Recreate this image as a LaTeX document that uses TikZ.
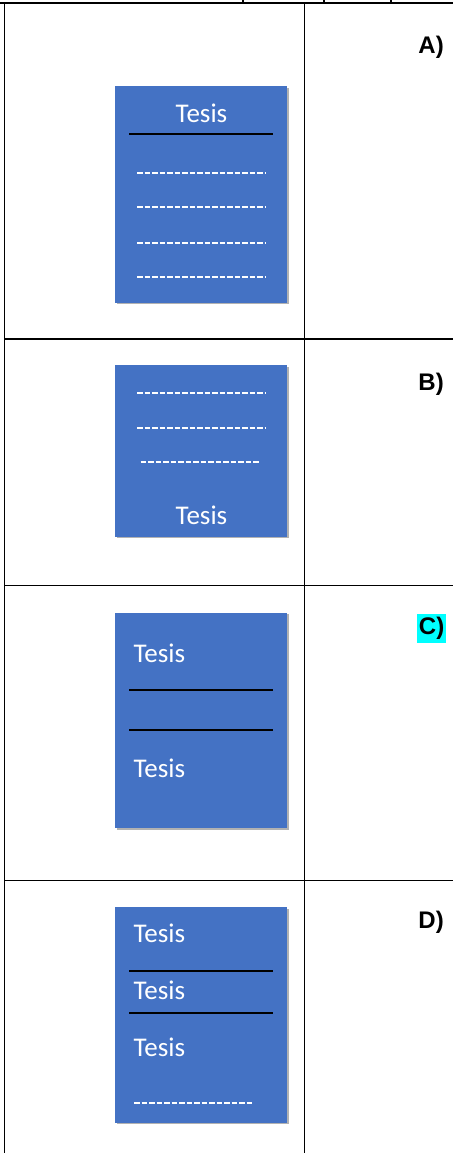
\documentclass[tikz,border=0pt]{standalone}
\usepackage{fontspec}
\setmainfont{Liberation Sans}
\newfontfamily\calib{Carlito}
\definecolor{officeblue}{HTML}{4472C4}
\definecolor{hlcyan}{RGB}{0,255,255}
\tikzset{
  grid/.style={line width=1.7pt, black},
  card/.style={fill=officeblue, draw=none},
  cardshadow/.style={fill=black!30, draw=none},
  rule/.style={line width=2pt, black},
  dots/.style={line width=1.8pt, white, dash pattern=on 5.5pt off 2pt},
  tesis/.style={text=white, inner sep=0pt, font=\calib\fontsize{27}{30}\selectfont},
  lbl/.style={anchor=east, inner sep=0pt, font=\bfseries\fontsize{24}{28}\selectfont},
}
\begin{document}
\begin{tikzpicture}[x=1pt,y=-1pt]
\useasboundingbox (0,0) rectangle (453,1153);
% table
\draw[grid] (0,3) -- (453,3);
\draw[grid] (4.5,3) -- (4.5,1153);
\draw[grid] (304.5,3) -- (304.5,1153);
\draw[grid] (4.5,339) -- (453,339);
\draw[grid] (4.5,585.5) -- (453,585.5);
\draw[grid] (4.5,880.5) -- (453,880.5);
% cut-off glyph stems at the top
\draw[line width=1.8pt] (243,0) -- (243,3);
\draw[line width=1.8pt] (324,0) -- (324,3);
\draw[line width=1.8pt] (391,0) -- (391,3);
% labels
\node[lbl] (la) at (444,47) {A)};
\node[lbl] (lb) at (444,384) {B)};
\node[lbl, fill=hlcyan, inner xsep=1.5pt, minimum height=29pt] (lc) at (446,628) {C)};
\node[lbl] (ld) at (444,922) {D)};
% ---- A
\fill[cardshadow] (116.5,88) rectangle (288.5,304);
\fill[card] (115,86.5) rectangle (287,302.5);
\node[tesis] (ta) at (201.5,113) {Tesis};
\draw[rule] (129,134.3) -- (272.5,134.3);
\draw[dots] (137,172.7) -- (265,172.7);
\draw[dots] (137,206.7) -- (265,206.7);
\draw[dots] (137,243.3) -- (265,243.3);
\draw[dots] (137,276.7) -- (265,276.7);
% ---- B
\fill[cardshadow] (116.5,366.5) rectangle (288.5,538);
\fill[card] (115,365) rectangle (287,536.5);
\draw[dots] (137,393.3) -- (265,393.3);
\draw[dots] (137,428.3) -- (265,428.3);
\draw[dots] (140.5,462.3) -- (260,462.3);
\node[tesis] (tb) at (201.5,515) {Tesis};
% ---- C
\fill[cardshadow] (116.5,614) rectangle (288.5,830);
\fill[card] (115,612.5) rectangle (287,828.3);
\node[tesis, anchor=west] (tc1) at (133.5,653.3) {Tesis};
\draw[rule] (129,690) -- (272.5,690);
\draw[rule] (129,730) -- (272.5,730);
\node[tesis, anchor=west] (tc2) at (133.5,768.3) {Tesis};
% ---- D
\fill[cardshadow] (116.5,908.5) rectangle (288.5,1124);
\fill[card] (115,907.3) rectangle (287,1122.7);
\node[tesis, anchor=west] (td1) at (133.5,933.3) {Tesis};
\draw[rule] (129,970.7) -- (272.5,970.7);
\node[tesis, anchor=west] (td2) at (133.5,990.7) {Tesis};
\draw[rule] (129,1012.7) -- (272.5,1012.7);
\node[tesis, anchor=west] (td3) at (133.5,1047.7) {Tesis};
\draw[dots] (134,1103.3) -- (252,1103.3);
\end{tikzpicture}
\end{document}
